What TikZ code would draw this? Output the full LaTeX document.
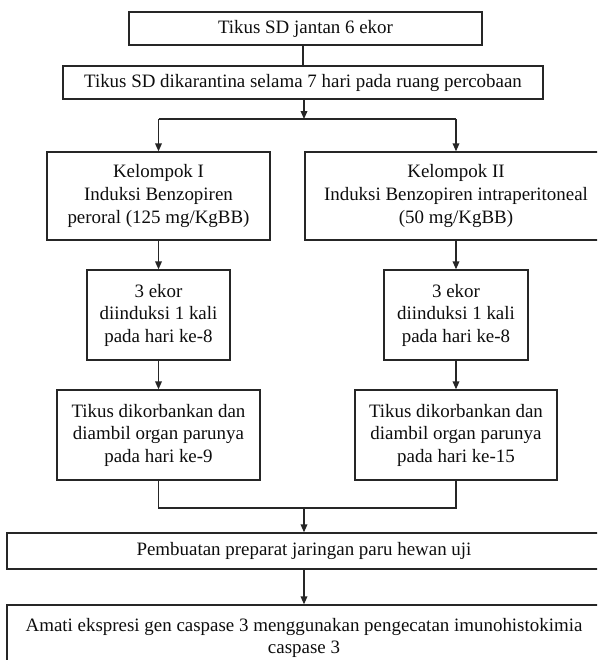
\documentclass[tikz,border=0pt]{standalone}
\usepackage{fontspec}
\setmainfont{Liberation Serif}
\usepackage{xcolor}
\definecolor{flowLine}{gray}{0.15}
\definecolor{flowText}{gray}{0.05}
\usepackage{tikz}
\usetikzlibrary{arrows.meta}

\begin{document}
\begin{tikzpicture}[x=0.75pt, y=-0.75pt, >={Triangle[length=6pt,width=5pt]},
  box/.style={draw=flowLine, line width=1pt, text=flowText, align=center,
    inner sep=0pt, font=\fontsize{14.2}{16.9}\selectfont},
  link/.style={draw=flowLine, line width=1pt}]
  \clip (0,0) rectangle (597,660);
  % start and quarantine
  \node[box, minimum width=264.75pt, minimum height=24.75pt] (rats) at (305.5,28.5)
    {Tikus SD jantan 6 ekor};
  \node[box, minimum width=360pt, minimum height=24.75pt] (quar) at (303,82.5)
    {Tikus SD dikarantina selama 7 hari pada ruang percobaan};
  % the two groups
  \node[box, minimum width=167.25pt, minimum height=66pt] (grpA) at (158.5,196)
    {Kelompok I\\ Induksi Benzopiren\\ peroral (125 mg/KgBB)};
  \node[box, minimum width=226.5pt, minimum height=66pt] (grpB) at (456,196)
    {Kelompok II\\ Induksi Benzopiren intraperitoneal\\ (50 mg/KgBB)};
  \node[box, minimum width=107.25pt, minimum height=67.5pt] (doseA) at (158.5,315)
    {3 ekor\\ diinduksi 1 kali\\ pada hari ke-8};
  \node[box, minimum width=108pt, minimum height=67.5pt] (doseB) at (456,315)
    {3 ekor\\ diinduksi 1 kali\\ pada hari ke-8};
  \node[box, minimum width=152.25pt, minimum height=67.5pt] (killA) at (158.5,435)
    {Tikus dikorbankan dan\\ diambil organ parunya\\ pada hari ke-9};
  \node[box, minimum width=151.5pt, minimum height=67.5pt] (killB) at (456,435)
    {Tikus dikorbankan dan\\ diambil organ parunya\\ pada hari ke-15};
  % lab work
  \node[box, minimum width=445.5pt, minimum height=27pt] (slide) at (304,551)
    {Pembuatan preparat jaringan paru hewan uji};
  \node[box, minimum width=445.5pt, minimum height=49.5pt] (stain) at (304,638)
    {Amati ekspresi gen caspase 3 menggunakan pengecatan imunohistokimia\\ caspase 3};
  % connectors
  \coordinate (split) at (304,119);
  \coordinate (join) at (304,508);
  \draw[link] (rats.south -| quar) -- (quar.north);
  \draw[link,->] (quar.south -| split) -- (split);
  \draw[link] (grpA.north |- split) -- (grpB.north |- split);
  \draw[link,->] (grpA.north |- split) -- (grpA.north);
  \draw[link,->] (grpB.north |- split) -- (grpB.north);
  \draw[link,->] (grpA) -- (doseA);
  \draw[link,->] (grpB) -- (doseB);
  \draw[link,->] (doseA) -- (killA);
  \draw[link,->] (doseB) -- (killB);
  \draw[link] (killA.south) -- (killA.south |- join) -- (killB.south |- join) -- (killB.south);
  \draw[link,->] (join) -- (slide.north -| join);
  \draw[link,->] (slide) -- (stain);
\end{tikzpicture}
\end{document}
